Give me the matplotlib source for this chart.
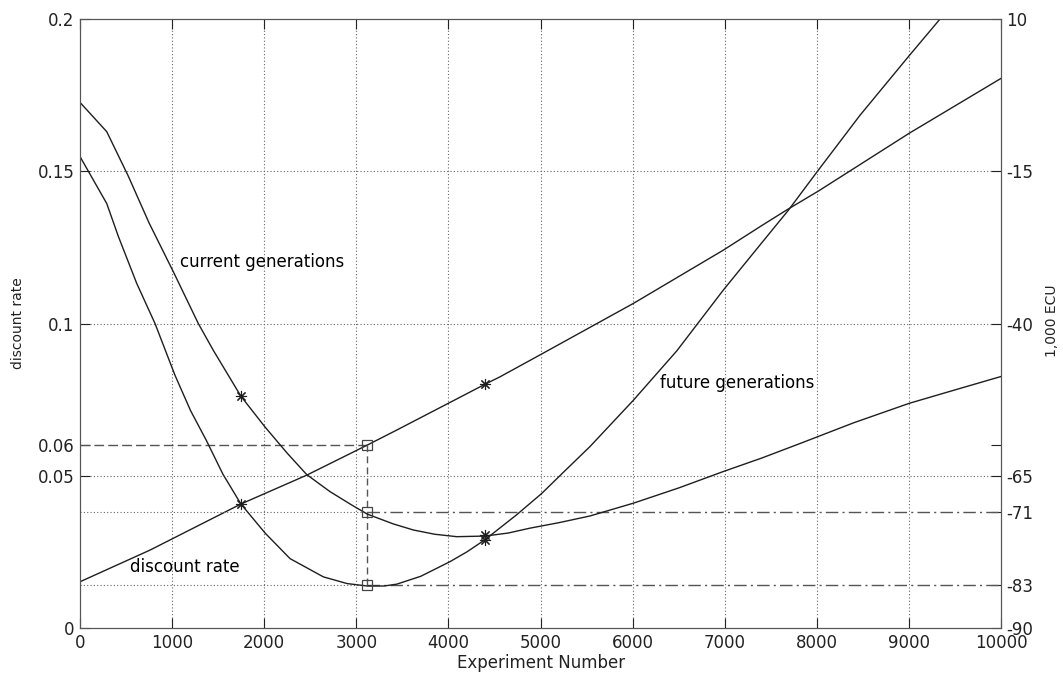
import matplotlib
matplotlib.use("Agg")
import matplotlib.pyplot as plt

plt.rcParams["font.family"] = ["DejaVu Sans"]

# discount rate (left axis)
rate_x = [0, 760, 1745, 2461, 2714, 3120, 3438, 4400, 4560, 5013, 6008, 6985, 7383,
          7673, 8017, 9004, 10000]
rate_y = [0.0152, 0.0256, 0.0407, 0.0502, 0.054, 0.0601, 0.065, 0.0801, 0.0825, 0.090,
          0.1066, 0.1241, 0.1318, 0.1373, 0.1435, 0.1625, 0.1805]

# current generations, 1,000 ECU (right axis)
cur_x = [0, 290, 524, 750, 1013, 1284, 1447, 1745, 2009, 2250, 2461, 2714, 2950, 3120,
         3400, 3619, 3850, 4090, 4397, 4650, 4886, 5200, 5537, 6008, 6500, 6985, 7400,
         7818, 8400, 9004, 9500, 10000]
cur_y = [-3.7, -8.5, -15.8, -23.5, -31.5, -40.0, -44.4, -51.9, -57.0, -61.3, -64.8, -67.6,
         -69.8, -71.3, -72.9, -73.9, -74.6, -75.0, -74.9, -74.4, -73.6, -72.7, -71.6,
         -69.5, -67.0, -64.3, -62.1, -59.7, -56.3, -53.1, -50.9, -48.7]

# future generations, 1,000 ECU (right axis)
fut_x = [0, 290, 416, 615, 814, 1031, 1200, 1375, 1550, 1745, 2009, 2280, 2642, 2900,
         3120, 3300, 3438, 3700, 4017, 4200, 4397, 4741, 5013, 5250, 5537, 6008, 6479,
         6985, 7383, 7691, 8017, 8469, 9004, 9338]
fut_y = [-12.6, -20.3, -25.7, -33.4, -40.0, -48.5, -54.3, -59.3, -64.7, -69.6, -74.4,
         -78.6, -81.6, -82.7, -83.1, -83.1, -82.8, -81.5, -79.1, -77.5, -75.5, -71.4,
         -67.9, -64.4, -60.2, -52.6, -44.5, -34.5, -27.1, -21.4, -14.8, -5.8, 4.0, 10]

# marked points
star_rate = ([1745, 4400], [0.0407, 0.0801])
star_ecu = ([1745, 4397, 4397], [-51.9, -74.8, -75.6])
sq_x = 3120
sq_rate = 0.06
sq_ecu = [-71, -83]

left_ticks = [0, 0.05, 0.06, 0.1, 0.15, 0.2]
left_labels = ["0", "0.05", "0.06", "0.1", "0.15", "0.2"]
right_ticks = [-90, -83, -71, -65, -60, -40, -15, 10]
right_labels = ["-90", "-83", "-71", "-65", "", "-40", "-15", "10"]

fig = plt.figure(figsize=(10.63, 6.74), dpi=100)
ax = fig.add_axes([0.0753, 0.0682, 0.8664, 0.9036])
ax2 = ax.twinx()

ax.set_xlim(0, 10000); ax.set_ylim(0, 0.2)
ax2.set_ylim(-90, 10)

lc = "#1e1e1e"
gc = "#666666"

# grid (MATLAB-style dotted)
for gx in range(1000, 10000, 1000):
    ax.axvline(gx, color=gc, ls=(0, (1, 2)), lw=0.8, zorder=0)
for gy in [0.05, 0.1, 0.15]:
    ax.axhline(gy, color=gc, ls=(0, (1, 2)), lw=0.8, zorder=0)

# guide lines to the squares
ax.plot([0, sq_x], [sq_rate, sq_rate], color="#555555", ls=(0, (7, 3)), lw=1)
ax2.plot([sq_x, sq_x], [-83, -60], color="#555555", ls=(0, (5, 3)), lw=1)
for v in sq_ecu:
    ax2.plot([0, sq_x], [v, v], color=gc, ls=(0, (1, 2)), lw=0.8)
    ax2.plot([sq_x, 10000], [v, v], color="#555555", ls=(0, (9, 3, 1.5, 3)), lw=1)

ax.plot(rate_x, rate_y, color=lc, lw=1)
ax2.plot(cur_x, cur_y, color=lc, lw=1)
ax2.plot(fut_x, fut_y, color=lc, lw=1)

ax.plot(*star_rate, ls="none", marker=(8, 2, 0), ms=8, mec=lc, mew=0.8)
ax2.plot(*star_ecu, ls="none", marker=(8, 2, 0), ms=8, mec=lc, mew=0.8)
ax.plot([sq_x], [sq_rate], ls="none", marker="s", ms=7, mfc="none", mec="#444444", mew=0.9)
ax2.plot([sq_x] * 2, sq_ecu, ls="none", marker="s", ms=7, mfc="none", mec="#444444", mew=0.9)

ax.set_yticks(left_ticks); ax.set_yticklabels(left_labels)
ax2.set_yticks(right_ticks); ax2.set_yticklabels(right_labels)
ax.set_xticks(range(0, 10001, 1000))

ax.tick_params(direction="in", length=7, labelsize=12, top=True, colors="#222222", pad=4)
ax2.tick_params(direction="in", length=7, labelsize=12, colors="#222222", pad=4)
for a in (ax, ax2):
    for s in a.spines.values():
        s.set_color("#555555")

fig.text(541 / 1063, 1 - 663 / 674, "Experiment Number", fontsize=12,
         ha="center", va="center", color="#222222")
fig.text(18 / 1063, 1 - 323 / 674, "discount rate", fontsize=10, rotation=90,
         ha="center", va="center", color="#222222")
fig.text(1052 / 1063, 1 - 321 / 674, "1,000 ECU", fontsize=10, rotation=90,
         ha="center", va="center", color="#222222")

ax.text(1086, 0.1202, "current generations", fontsize=12, va="center")
ax.text(543, 0.020, "discount rate", fontsize=12, va="center")
ax.text(6297, 0.0805, "future generations", fontsize=12, va="center")

fig.savefig("out.png", dpi=100)
